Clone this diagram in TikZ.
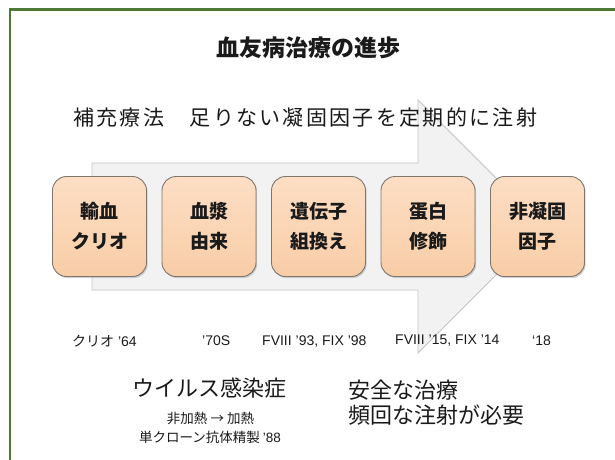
\documentclass[tikz,border=0pt]{standalone}
\usepackage{fontspec}
\setmainfont{Liberation Sans}
\newfontfamily\jp{Noto Sans CJK JP}
\usetikzlibrary{shadows}
\definecolor{framegreen}{HTML}{4F7A35}
\definecolor{arrowfill}{HTML}{F2F2F2}
\definecolor{arrowline}{HTML}{C4C4C4}
\definecolor{boxtop}{HTML}{FDDEC4}
\definecolor{boxbot}{HTML}{F8CDA7}
\definecolor{boxline}{HTML}{7F766E}
\definecolor{txt}{HTML}{1A1A1A}
\tikzset{
  stagebox/.style={rounded corners=14pt, minimum width=94pt, minimum height=100pt,
    draw=boxline, line width=0.9pt, top color=boxtop, bottom color=boxbot,
    drop shadow={shadow xshift=1.2pt, shadow yshift=-1.6pt, opacity=0.35},
    align=center, font=\jp\bfseries\fontsize{19}{30}\selectfont, text=txt, inner sep=0pt},
  yearlbl/.style={anchor=west, font=\fontsize{14}{16}\selectfont, text=txt, inner sep=0pt},
  bigjp/.style={font=\jp\fontsize{22}{26}\selectfont, text=txt, inner sep=0pt},
  smalljp/.style={font=\jp\fontsize{13.5}{16}\selectfont, text=txt, inner sep=0pt},
}
\begin{document}
\begin{tikzpicture}[x=1pt,y=-1pt]
\useasboundingbox (0,0) rectangle (615,459);
\fill[white] (0,0) rectangle (615,459);
% frame
\draw[framegreen, line width=2.5pt] (10,470) -- (10,9.5) -- (620,9.5);
% title
\node[font=\jp\bfseries\fontsize{23}{26}\selectfont, text=txt, inner sep=0pt] (title) at (308,48) {血友病治療の進歩};
% big arrow
\filldraw[fill=arrowfill, draw=arrowline, line width=0.8pt]
  (92,163) -- (418,163) -- (418,100) -- (544.5,226.5) -- (418,353) -- (418,290) -- (92,290) -- cycle;
% subtitle
\node[anchor=west, font=\jp\fontsize{21}{24}\selectfont\addfontfeature{LetterSpace=11}, text=txt, inner sep=0pt] (sub) at (73,118) {補充療法　足りない凝固因子を定期的に注射};
% stage boxes
\node[stagebox] (b1) at (99.5,226.5) {輸血\\クリオ};
\node[stagebox] (b2) at (209,226.5) {血漿\\由来};
\node[stagebox] (b3) at (318.5,226.5) {遺伝子\\組換え};
\node[stagebox] (b4) at (428,226.5) {蛋白\\修飾};
\node[stagebox] (b5) at (537.5,226.5) {非凝固\\因子};
% years
\node[yearlbl] (y1) at (72,341) {{\jp クリオ} ’64};
\node[yearlbl] (y2) at (202,341) {’70S};
\node[yearlbl] (y3) at (262,341) {FVIII ’93, FIX ’98};
\node[yearlbl] (y4) at (395,341) {FVIII ’15, FIX ’14};
\node[yearlbl] (y5) at (532,341) {‘18};
% bottom texts
\node[bigjp] (virus) at (209.5,388) {ウイルス感染症};
\node[smalljp] (heat) at (210.5,418) {非加熱 → 加熱};
\node[smalljp] (mono) at (210,437) {単クローン抗体精製 {\rmfamily ’88}};
\node[bigjp, anchor=west] (safe) at (348,390) {安全な治療};
\node[bigjp, anchor=west] (freq) at (348,415) {頻回な注射が必要};
\end{tikzpicture}
\end{document}
